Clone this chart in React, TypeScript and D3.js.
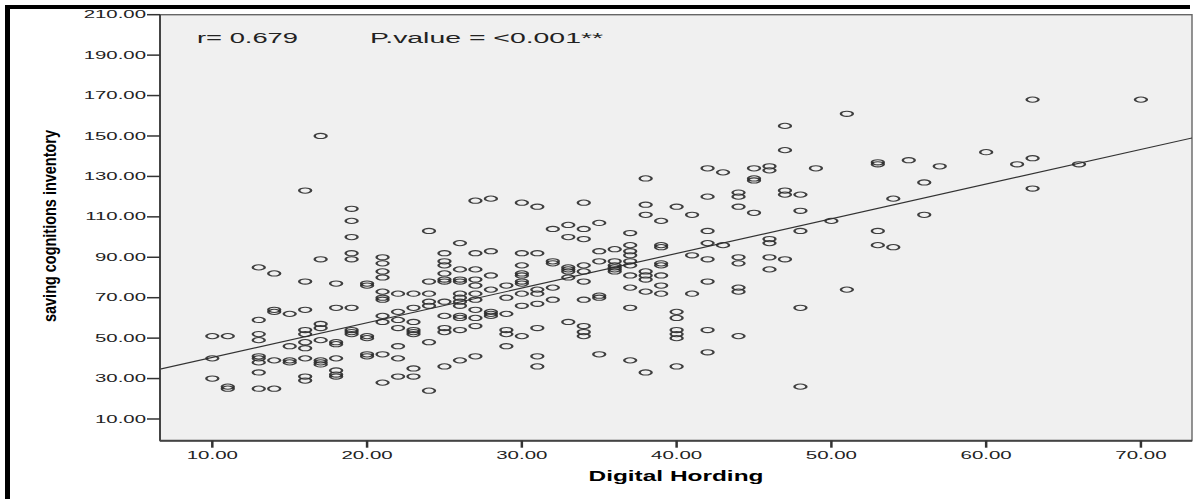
import React from 'react';
import * as d3 from 'd3';

// Digital Hording score levels and the saving cognitions values observed at each level
const hordingLevels = [10, 11, 13, 14, 15, 16, 17, 18, 19, 20, 21, 22, 23, 24, 25, 26, 27, 28, 29, 30, 31, 32, 33, 34, 35, 36, 37, 38, 39, 40, 41, 42, 43, 44, 45, 46, 47, 48, 49, 50, 51, 53, 54, 55, 56, 57, 60, 62, 63, 66, 70];
const savingByLevel = [
  [51, 40, 30],
  [51, 26, 25],
  [85, 59, 52, 49, 41, 40, 38, 33, 25],
  [82, 64, 63, 39, 25],
  [62, 46, 39, 38],
  [123, 78, 64, 54, 52, 48, 45, 40, 31, 29],
  [150, 89, 57, 55, 49, 39, 38, 37],
  [77, 65, 48, 47, 40, 34, 32, 31],
  [114, 108, 100, 92, 89, 65, 54, 53, 52],
  [77, 76, 51, 50, 42, 41],
  [90, 87, 83, 80, 73, 70, 69, 61, 58, 42, 28],
  [72, 63, 59, 55, 46, 40, 31],
  [72, 65, 58, 54, 53, 52, 35, 31],
  [103, 78, 72, 68, 66, 48, 24],
  [92, 88, 86, 82, 79, 78, 68, 61, 55, 53, 36],
  [97, 84, 79, 78, 72, 70, 68, 66, 61, 60, 54, 39],
  [118, 92, 84, 79, 76, 72, 69, 64, 60, 56, 41],
  [119, 93, 81, 74, 63, 62, 61],
  [76, 70, 62, 54, 52, 46],
  [117, 92, 86, 82, 81, 78, 77, 72, 66, 51],
  [115, 92, 74, 72, 67, 55, 41, 36],
  [104, 88, 87, 75, 69],
  [106, 100, 85, 84, 83, 80, 58],
  [117, 104, 99, 86, 83, 78, 69, 56, 53, 51],
  [107, 93, 88, 71, 70, 42],
  [94, 88, 86, 85, 84, 83],
  [102, 96, 93, 91, 88, 86, 81, 75, 65, 39],
  [129, 116, 111, 83, 81, 79, 73, 33],
  [108, 96, 95, 87, 86, 81, 76, 72],
  [115, 63, 60, 54, 52, 50, 36],
  [111, 91, 72],
  [134, 120, 103, 97, 89, 78, 54, 43],
  [132, 96],
  [122, 120, 115, 90, 87, 75, 73, 51],
  [134, 129, 128, 112],
  [135, 133, 99, 97, 90, 84],
  [155, 143, 123, 121, 89],
  [121, 113, 103, 65, 26],
  [134],
  [108],
  [161, 74],
  [137, 136, 103, 96],
  [119, 95],
  [138],
  [127, 111],
  [135],
  [142],
  [136],
  [168, 139, 124],
  [136],
  [168],
];

const xTicks = [10, 20, 30, 40, 50, 60, 70];
const yTicks = [10, 30, 50, 70, 90, 110, 130, 150, 170, 190, 210];
const xDomain = [6.62, 73.3];
const yDomain = [-0.74, 210];
const fitIntercept = 23.3;
const fitSlope = 1.715;
const xTitle = 'Digital Hording';
const yTitle = 'saving cognitions inventory';
const rText = 'r= 0.679';
const pText = 'P.value = <0.001**';

const W = 1200;
const H = 499;
const plot = { left: 160, right: 1192, top: 14.7, bottom: 440.7 };
const FONT = "'Liberation Sans', Arial, sans-serif";

export default function App() {
  const x = d3.scaleLinear().domain(xDomain).range([plot.left, plot.right]);
  const y = d3.scaleLinear().domain(yDomain).range([plot.bottom, plot.top]);

  const points: { hx: number; sv: number }[] = [];
  hordingLevels.forEach((hx, i) => {
    savingByLevel[i].forEach((sv) => points.push({ hx, sv }));
  });

  const fitLine = d3
    .line<number>()
    .x((d) => x(d))
    .y((d) => y(fitIntercept + fitSlope * d));

  return (
    <svg
      width={W}
      height={H}
      style={{ position: 'absolute', left: 0, top: 0, background: '#fff' }}
    >
      <defs>
        <clipPath id="plotClip">
          <rect x={plot.left} y={plot.top} width={plot.right - plot.left} height={plot.bottom - plot.top} />
        </clipPath>
      </defs>
      <rect x={0} y={0} width={W} height={H} fill="#fff" />
      {/* outer black frame */}
      <rect x={5} y={5} width={1185} height={4} fill="#000" />
      <rect x={5} y={5} width={5} height={H - 5} fill="#000" />

      {/* plot background */}
      <rect
        x={plot.left}
        y={plot.top}
        width={plot.right - plot.left}
        height={plot.bottom - plot.top}
        fill="#f0f0f0"
        stroke="#666"
        strokeWidth={1.4}
      />

      {/* regression line */}
      <path
        d={fitLine(xDomain) || ''}
        stroke="#333"
        strokeWidth={1.2}
        fill="none"
        clipPath="url(#plotClip)"
      />

      {/* points */}
      <g clipPath="url(#plotClip)">
        {points.map((p, i) => (
          <circle
            key={i}
            r={2.6}
            transform={`translate(${x(p.hx)},${y(p.sv)}) scale(2.3,1)`}
            fill="none"
            stroke="#2b2b2b"
            strokeWidth={1.05}
            strokeOpacity={0.9}
          />
        ))}
      </g>

      {/* axis lines */}
      <line x1={plot.left} x2={plot.left} y1={plot.top} y2={plot.bottom} stroke="#444" strokeWidth={2} />
      <line x1={plot.left} x2={plot.right} y1={plot.bottom} y2={plot.bottom} stroke="#444" strokeWidth={2} />

      {/* y ticks */}
      {yTicks.map((t) => (
        <g key={`y${t}`}>
          <line x1={147} x2={plot.left} y1={y(t)} y2={y(t)} stroke="#333" strokeWidth={1.5} />
          <text
            transform={`translate(146,${y(t) + 3.6}) scale(2.0,1)`}
            textAnchor="end"
            fontSize={10.2}
            fontFamily={FONT}
            fill="#222"
          >
            {t.toFixed(2)}
          </text>
        </g>
      ))}

      {/* x ticks */}
      {xTicks.map((t) => (
        <g key={`x${t}`}>
          <line x1={x(t)} x2={x(t)} y1={plot.bottom} y2={plot.bottom + 7} stroke="#333" strokeWidth={2.5} />
          <text
            transform={`translate(${x(t)},${459}) scale(1.95,1)`}
            textAnchor="middle"
            fontSize={10.5}
            fontFamily={FONT}
            fill="#222"
          >
            {t.toFixed(2)}
          </text>
        </g>
      ))}

      {/* annotations */}
      <text x={197} y={42.7} fontSize={14} fontFamily={FONT} fill="#222" textLength={101} lengthAdjust="spacingAndGlyphs">
        {rText}
      </text>
      <text x={370} y={42.7} fontSize={14} fontFamily={FONT} fill="#222" textLength={233} lengthAdjust="spacingAndGlyphs">
        {pText}
      </text>

      {/* axis titles */}
      <text
        x={(plot.left + plot.right) / 2 - 87.5}
        y={481}
        fontSize={14.5}
        fontWeight="bold"
        fontFamily={FONT}
        fill="#000"
        textLength={175}
        lengthAdjust="spacingAndGlyphs"
      >
        {xTitle}
      </text>
      <text
        transform={`translate(56,${322}) rotate(-90)`}
        fontSize={18.5}
        fontWeight="bold"
        fontFamily={FONT}
        fill="#000"
        textLength={192}
        lengthAdjust="spacingAndGlyphs"
      >
        {yTitle}
      </text>
    </svg>
  );
}
